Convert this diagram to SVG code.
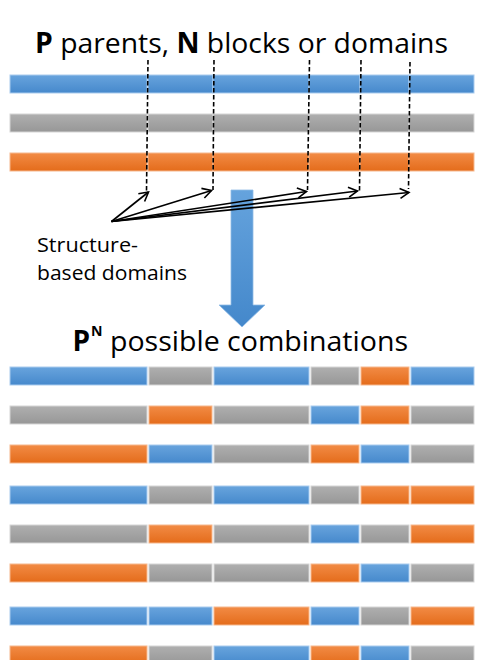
<svg xmlns="http://www.w3.org/2000/svg" width="497" height="660" viewBox="0 0 497 660">
<style>
.t{font-family:"Open Sans","Liberation Sans",sans-serif;fill:#000}
.b{font-weight:bold}
.bar{stroke-width:1}
.blue{fill:url(#gB);stroke:#a9cbee}
.gray{fill:url(#gG);stroke:#d6d6d6}
.orange{fill:url(#gO);stroke:#f6b88d}
.dash{stroke:#000;stroke-width:1.6;stroke-dasharray:4.5 2.5;fill:none}
.arr{stroke:#000;stroke-width:1.6;fill:none;marker-end:url(#ah)}
</style>
<defs>
<linearGradient id="gB" x1="0" y1="0" x2="0" y2="1"><stop offset="0" stop-color="#68a4dd"/><stop offset="1" stop-color="#4689cc"/></linearGradient>
<linearGradient id="gG" x1="0" y1="0" x2="0" y2="1"><stop offset="0" stop-color="#afafaf"/><stop offset="1" stop-color="#979797"/></linearGradient>
<linearGradient id="gO" x1="0" y1="0" x2="0" y2="1"><stop offset="0" stop-color="#f28b45"/><stop offset="1" stop-color="#e46c1b"/></linearGradient>
<linearGradient id="gA" x1="0" y1="0" x2="0" y2="1"><stop offset="0" stop-color="#65a3dd"/><stop offset="1" stop-color="#4488cb"/></linearGradient>
<marker id="ah" viewBox="0 0 12 12" refX="10" refY="6" markerWidth="12" markerHeight="12" markerUnits="userSpaceOnUse" orient="auto">
<path d="M1,1 L10,6 L1,11" fill="none" stroke="#000" stroke-width="1.6"/>
</marker>
</defs>

<g id="title">
<text class="t" x="35" y="53" font-size="28" textLength="413" lengthAdjust="spacingAndGlyphs"><tspan class="b">P</tspan> parents, <tspan class="b">N</tspan> blocks or domains</text>
</g>

<g id="parents">
<g id="parentBlue">
<rect class="bar blue" x="10" y="75" width="137" height="18"/><rect class="bar blue" x="148" y="75" width="65" height="18"/><rect class="bar blue" x="213" y="75" width="96" height="18"/><rect class="bar blue" x="309" y="75" width="51" height="18"/><rect class="bar blue" x="360" y="75" width="49" height="18"/><rect class="bar blue" x="409" y="75" width="65" height="18"/>
</g>
<g id="parentGray">
<rect class="bar gray" x="10" y="114" width="137" height="18"/><rect class="bar gray" x="148" y="114" width="65" height="18"/><rect class="bar gray" x="213" y="114" width="96" height="18"/><rect class="bar gray" x="309" y="114" width="51" height="18"/><rect class="bar gray" x="360" y="114" width="49" height="18"/><rect class="bar gray" x="409" y="114" width="65" height="18"/>
</g>
<g id="parentOrange">
<rect class="bar orange" x="10" y="153" width="137" height="18"/><rect class="bar orange" x="148" y="153" width="65" height="18"/><rect class="bar orange" x="213" y="153" width="96" height="18"/><rect class="bar orange" x="309" y="153" width="51" height="18"/><rect class="bar orange" x="360" y="153" width="49" height="18"/><rect class="bar orange" x="409" y="153" width="65" height="18"/>
</g>
</g>

<g id="bigArrow">
<path d="M231,190 L253,190 L253,305 L265,305 L242,327 L219,305 L231,305 Z" fill="url(#gA)" stroke="#8fbbe6" stroke-width="0.8"/>
</g>

<g id="connectors">
<line class="dash" x1="148" y1="60" x2="146.5" y2="192"/>
<line class="dash" x1="214" y1="60" x2="213" y2="190"/>
<line class="dash" x1="309.5" y1="60" x2="307.5" y2="190"/>
<line class="dash" x1="361" y1="60" x2="359.5" y2="191"/>
<line class="dash" x1="410" y1="62" x2="408.5" y2="189"/>
<line class="arr" x1="111.5" y1="221.5" x2="148.5" y2="192"/>
<line class="arr" x1="111.5" y1="221.5" x2="211.5" y2="190.5"/>
<line class="arr" x1="111.5" y1="221.5" x2="306.5" y2="191.5"/>
<line class="arr" x1="111.5" y1="221.5" x2="357.5" y2="191"/>
<line class="arr" x1="111.5" y1="221.5" x2="409" y2="192.5"/>
</g>

<g id="label">
<text class="t" x="37" y="252" font-size="20" textLength="101" lengthAdjust="spacingAndGlyphs">Structure-</text>
<text class="t" x="37" y="280" font-size="20" textLength="150" lengthAdjust="spacingAndGlyphs">based domains</text>
</g>

<g id="subtitle">
<text class="t b" x="72.5" y="351" font-size="28">P</text>
<text class="t b" x="91" y="335.5" font-size="15" textLength="11.5" lengthAdjust="spacingAndGlyphs">N</text>
<text class="t" x="110" y="351" font-size="28" textLength="298" lengthAdjust="spacingAndGlyphs">possible combinations</text>
</g>

<g id="combinations">
<g id="row1">
<rect class="bar blue" x="10" y="367" width="137" height="18"/><rect class="bar gray" x="149" y="367" width="63" height="18"/><rect class="bar blue" x="214" y="367" width="95" height="18"/><rect class="bar gray" x="311" y="367" width="48" height="18"/><rect class="bar orange" x="361" y="367" width="48" height="18"/><rect class="bar blue" x="411" y="367" width="63" height="18"/>
</g>
<g id="row2">
<rect class="bar gray" x="10" y="406" width="137" height="18"/><rect class="bar orange" x="149" y="406" width="63" height="18"/><rect class="bar gray" x="214" y="406" width="95" height="18"/><rect class="bar blue" x="311" y="406" width="48" height="18"/><rect class="bar orange" x="361" y="406" width="48" height="18"/><rect class="bar gray" x="411" y="406" width="63" height="18"/>
</g>
<g id="row3">
<rect class="bar orange" x="10" y="445" width="137" height="18"/><rect class="bar blue" x="149" y="445" width="63" height="18"/><rect class="bar gray" x="214" y="445" width="95" height="18"/><rect class="bar orange" x="311" y="445" width="48" height="18"/><rect class="bar blue" x="361" y="445" width="48" height="18"/><rect class="bar gray" x="411" y="445" width="63" height="18"/>
</g>
<g id="row4">
<rect class="bar blue" x="10" y="486" width="137" height="18"/><rect class="bar gray" x="149" y="486" width="63" height="18"/><rect class="bar blue" x="214" y="486" width="95" height="18"/><rect class="bar gray" x="311" y="486" width="48" height="18"/><rect class="bar orange" x="361" y="486" width="48" height="18"/><rect class="bar orange" x="411" y="486" width="63" height="18"/>
</g>
<g id="row5">
<rect class="bar gray" x="10" y="525" width="137" height="18"/><rect class="bar orange" x="149" y="525" width="63" height="18"/><rect class="bar gray" x="214" y="525" width="95" height="18"/><rect class="bar blue" x="311" y="525" width="48" height="18"/><rect class="bar gray" x="361" y="525" width="48" height="18"/><rect class="bar orange" x="411" y="525" width="63" height="18"/>
</g>
<g id="row6">
<rect class="bar orange" x="10" y="564" width="137" height="18"/><rect class="bar gray" x="149" y="564" width="63" height="18"/><rect class="bar gray" x="214" y="564" width="95" height="18"/><rect class="bar orange" x="311" y="564" width="48" height="18"/><rect class="bar blue" x="361" y="564" width="48" height="18"/><rect class="bar gray" x="411" y="564" width="63" height="18"/>
</g>
<g id="row7">
<rect class="bar blue" x="10" y="607" width="137" height="18"/><rect class="bar blue" x="149" y="607" width="63" height="18"/><rect class="bar orange" x="214" y="607" width="95" height="18"/><rect class="bar blue" x="311" y="607" width="48" height="18"/><rect class="bar gray" x="361" y="607" width="48" height="18"/><rect class="bar orange" x="411" y="607" width="63" height="18"/>
</g>
<g id="row8">
<rect class="bar orange" x="10" y="646" width="137" height="18"/><rect class="bar gray" x="149" y="646" width="63" height="18"/><rect class="bar blue" x="214" y="646" width="95" height="18"/><rect class="bar orange" x="311" y="646" width="48" height="18"/><rect class="bar blue" x="361" y="646" width="48" height="18"/><rect class="bar gray" x="411" y="646" width="63" height="18"/>
</g>
</g>
</svg>
